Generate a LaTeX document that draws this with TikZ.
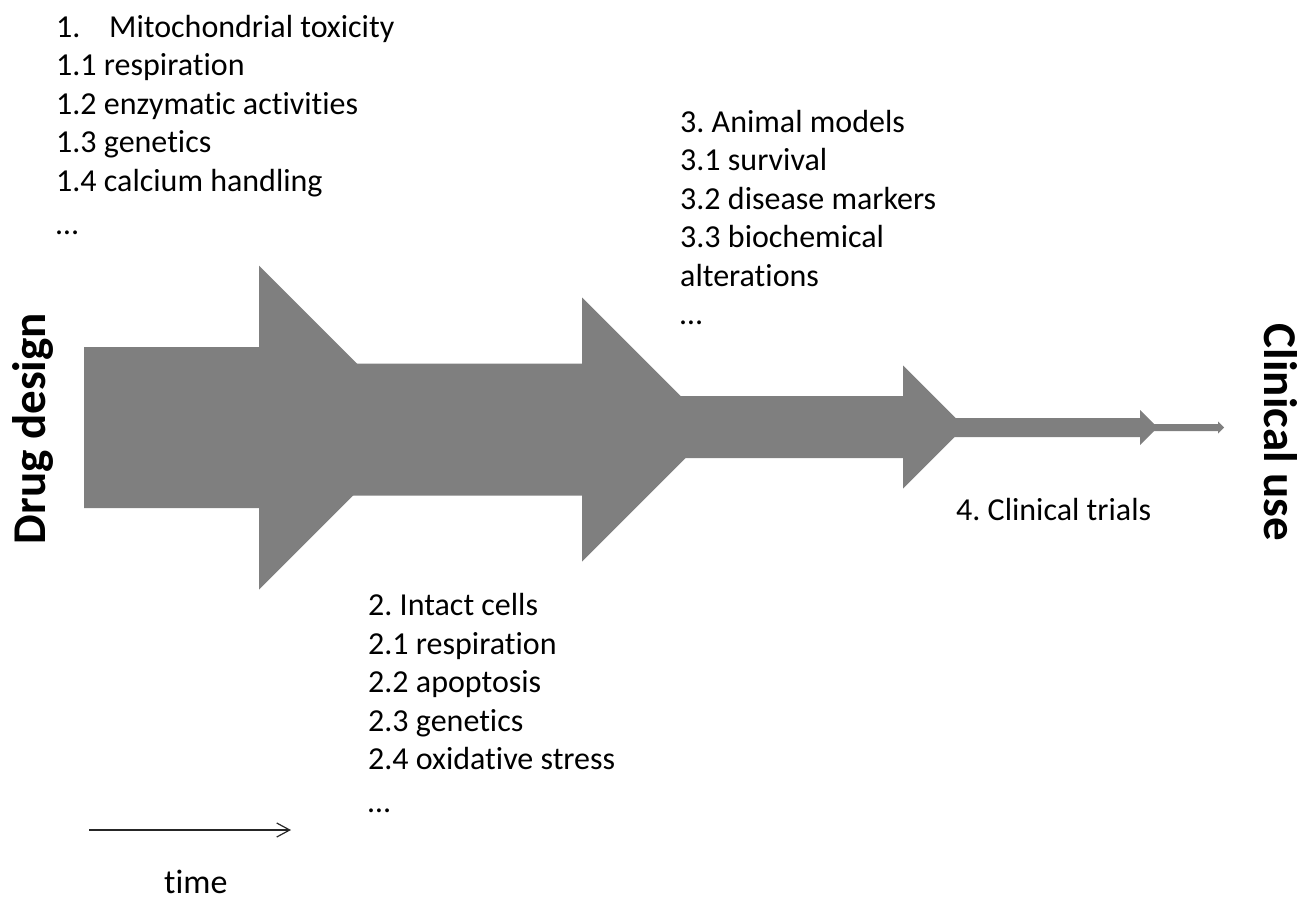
\documentclass[tikz,border=0pt]{standalone}
\usepackage{fontspec}
\setmainfont{Carlito}[Ligatures=NoCommon]
\usetikzlibrary{arrows.meta}
\definecolor{arrowgray}{HTML}{7F7F7F}
\frenchspacing
\newcommand{\blockarrow}[6]{% x0, cy, h, xh, H, name
  \fill[arrowgray] (#1,#2-#3) -- (#4,#2-#3) -- (#4,#2-#5) -- (#4+#5,#2)
    -- (#4,#2+#5) -- (#4,#2+#3) -- (#1,#2+#3) -- cycle;
  \coordinate (#6) at (#4+#5,#2);}
\tikzset{
  listtext/.style={anchor=base west, inner sep=0pt, font=\fontsize{32}{38.5}\selectfont\frenchspacing},
  sidetext/.style={anchor=base, inner sep=0pt, font=\fontsize{47}{56}\selectfont\bfseries},
}
\begin{document}
\begin{tikzpicture}[x=1pt,y=-1pt]
\useasboundingbox (0,0) rectangle (1297,897);
% block arrows
\blockarrow{84}{427.5}{80.5}{259}{162}{tip1}
\blockarrow{340}{429.5}{66}{582}{132}{tip2}
\blockarrow{670}{427}{31}{903}{61.5}{tip3}
\blockarrow{945}{427.5}{9.5}{1140}{17.5}{tip4}
\blockarrow{1150}{427.5}{3.5}{1218}{6}{tip5}
% side labels
\node[sidetext, rotate=90] (drug) at (45,428.5) {Drug design};
\node[sidetext, rotate=-90] (clin) at (1264,432.5) {Clinical use};
% lists
\node[listtext] (list1) at (56,37.3) {\begin{tabular}[t]{@{}l@{}}
\makebox[53pt][l]{1.}Mitochondrial toxicity\\
1.1 respiration\\
1.2 enzymatic activities\\
1.3 genetics\\
1.4 calcium handling\\[4.5pt]
\dots
\end{tabular}};
\node[listtext] (list2) at (368,615.7) {\begin{tabular}[t]{@{}l@{}}
2. Intact cells\\
2.1 respiration\\
2.2 apoptosis\\
2.3 genetics\\
2.4 oxidative stress\\[4.5pt]
\dots
\end{tabular}};
\node[listtext] (list3) at (680,132.3) {\begin{tabular}[t]{@{}l@{}}
3. Animal models\\
3.1 survival\\
3.2 disease markers\\
3.3 biochemical\\
alterations\\
\dots
\end{tabular}};
\node[listtext] (list4) at (956,520) {4. Clinical trials};
% time arrow
\coordinate (t0) at (89,830);
\coordinate (t1) at (291,830);
\draw[line width=1.2pt, black!85, -{Straight Barb[length=13pt,width=14pt,line width=1.2pt]}] (t0) -- (t1);
\node[anchor=base west, inner sep=0pt, font=\fontsize{34}{40}\selectfont] (time) at (164,893.5) {time};
\end{tikzpicture}
\end{document}
